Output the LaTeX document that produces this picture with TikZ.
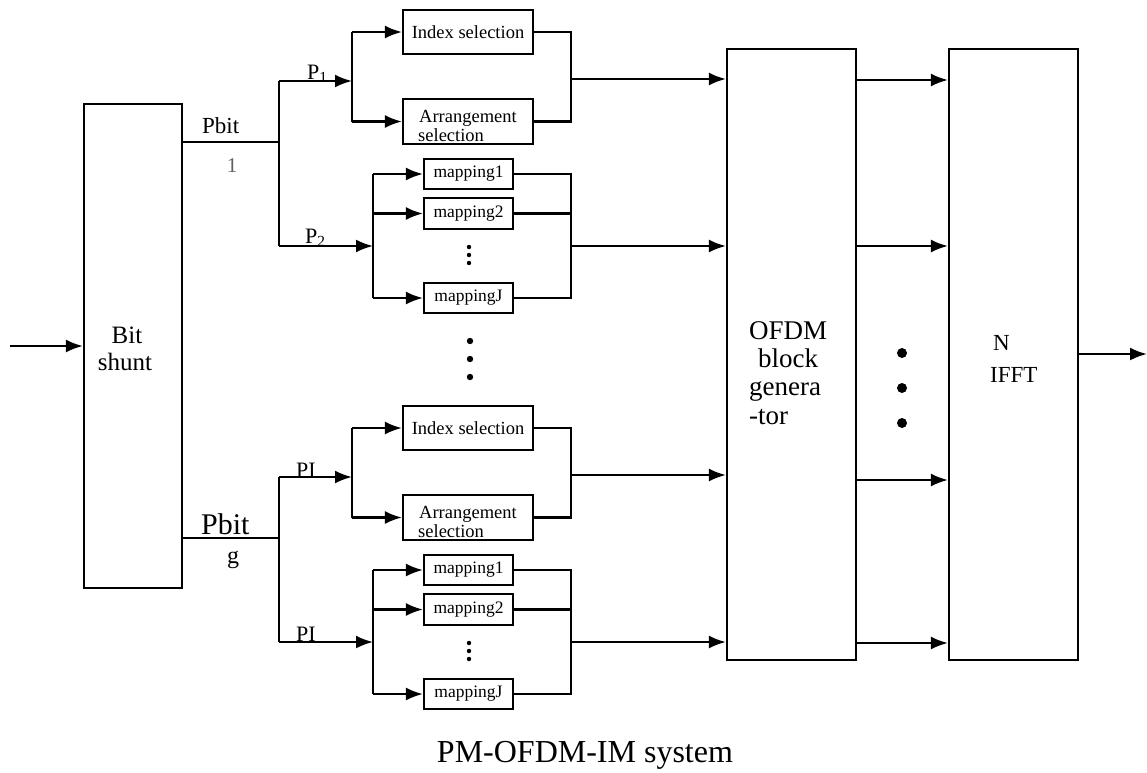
\documentclass[tikz,border=0pt]{standalone}
\usepackage{fontspec}
\setmainfont{Liberation Serif}
\usetikzlibrary{arrows.meta,calc}
\definecolor{numgray}{RGB}{95,95,95}
\newcommand{\fs}[1]{\fontsize{#1}{#1}\selectfont}
\begin{document}
\begin{tikzpicture}[x=1pt,y=-1pt,
  blk/.style={draw,line width=2.2pt,inner sep=0pt},
  wire/.style={line width=2.2pt},
  arr/.style={line width=2.2pt,-{Latex[length=17pt,width=13pt]}},
  lbl/.style={inner sep=0pt},
  idxbox/.style={blk,minimum width=130pt,minimum height=44pt,font=\fs{18.5}},
  mapbox/.style={blk,minimum width=89pt,minimum height=30pt,font=\fs{17.5}}]
\useasboundingbox (0,0) rectangle (1147,772);

% main blocks
\node[blk,minimum width=98pt,minimum height=484pt] (shunt) at (133,346) {};
\node[blk,minimum width=129pt,minimum height=611pt] (ofdm) at (791.5,354.5) {};
\node[blk,minimum width=129pt,minimum height=611pt] (ifft) at (1013.5,354.5) {};

% block labels
\node[lbl,font=\fs{25},anchor=base] (shuntA) at (127,343) {Bit};
\node[lbl,font=\fs{25},anchor=base] (shuntB) at (125,370) {shunt};
\node[lbl,font=\fs{27},anchor=base west] (ofdmA) at (749,339) {OFDM};
\node[lbl,font=\fs{27},anchor=base west] (ofdmB) at (758,367) {block};
\node[lbl,font=\fs{27},anchor=base west] (ofdmC) at (749,395) {genera};
\node[lbl,font=\fs{27},anchor=base west] (ofdmD) at (749,424) {-tor};
\node[lbl,font=\fs{23},anchor=base west] (ifftA) at (993,350) {N};
\node[lbl,font=\fs{23},anchor=base west] (ifftB) at (990,382) {IFFT};

% input
\coordinate (src) at (10,346);
\draw[arr] (src) -- (shunt.west);

% the two branch groups (the second one is the first shifted down)
\foreach \g/\dy in {1/0,2/396}{
  \node[idxbox] (idx\g) at (468,32+\dy) {Index selection};
  \node[idxbox,minimum height=45pt] (arr\g) at (468,121.5+\dy) {};
  \node[lbl,font=\fs{18.5},anchor=base west] (arrA\g) at (419,122+\dy) {Arrangement};
  \node[lbl,font=\fs{18.5},anchor=base west] (arrB\g) at (418,141+\dy) {selection};
  \node[mapbox] (ma\g) at (468.5,174+\dy) {mapping1};
  \node[mapbox,minimum height=31pt] (mb\g) at (468.5,213.5+\dy) {mapping2};
  \node[mapbox] (mj\g) at (468.5,298+\dy) {mappingJ};
  \foreach \yy in {247,255,263}{\fill (469,\yy+\dy) circle (2.2pt);}
  % splitting
  \coordinate (s\g) at (279,142+\dy);
  \coordinate (sa\g) at (279,81+\dy);
  \coordinate (sb\g) at (279,246+\dy);
  \coordinate (ja\g) at (352,81+\dy);
  \coordinate (jb\g) at (373,246+\dy);
  \draw[wire] (s\g -| shunt.east) -- (s\g);
  \draw[wire] (sa\g) -- (sb\g);
  \draw[arr] (sa\g) -- (ja\g);
  \draw[arr] (sb\g) -- (jb\g);
  \draw[wire] (ja\g |- idx\g) -- (ja\g |- arr\g);
  \draw[arr] (ja\g |- idx\g) -- (idx\g.west);
  \draw[arr] (ja\g |- arr\g) -- (arr\g.west);
  \draw[wire] (jb\g |- ma\g) -- (jb\g |- mj\g);
  \draw[arr] (jb\g |- ma\g) -- (ma\g.west);
  \draw[arr] (jb\g |- mb\g) -- (mb\g.west);
  \draw[arr] (jb\g |- mj\g) -- (mj\g.west);
  % merging
  \coordinate (ca\g) at (571,79+\dy);
  \coordinate (cb\g) at (571,246+\dy);
  \draw[wire] (idx\g.east) -- (idx\g.east -| ca\g) -- (arr\g.east -| ca\g) -- (arr\g.east);
  \draw[wire] (ma\g.east) -- (ma\g.east -| cb\g) -- (mj\g.east -| cb\g) -- (mj\g.east);
  \draw[wire] (mb\g.east) -- (mb\g.east -| cb\g);
  \draw[arr] (ca\g) -- (ca\g -| ofdm.west);
  \draw[arr] (cb\g) -- (cb\g -| ofdm.west);
}

% branch labels
\node[lbl,font=\fs{23},anchor=base west] (pbit1) at (202,133) {Pbit};
\node[lbl,font=\fs{21},text=numgray,anchor=base] (pbit1n) at (232,172) {1};
\node[lbl,font=\fs{22},anchor=base west] (p1) at (307,79) {P\textsubscript{1}};
\node[lbl,font=\fs{22},anchor=base west] (p2) at (305,243) {P\textsubscript{2}};
\node[lbl,font=\fs{30},anchor=base west] (pbitg) at (201,534) {Pbit};
\node[lbl,font=\fs{24},anchor=base] (pbitgn) at (233,563) {g};
\node[lbl,font=\fs{22},anchor=base west] (pl1) at (296,477) {PI};
\node[lbl,font=\fs{22},anchor=base west] (pl2) at (296,641) {PI};

% ellipses
\foreach \yy in {341,359,377}{\fill (470,\yy) circle (3.2pt);}
\foreach \yy in {353,388,423}{\fill (902,\yy) circle (5pt);}

% OFDM block -> IFFT
\foreach \yy in {80,246,480,643}{\draw[arr] (ofdm.east |- 0,\yy) -- (ifft.west |- 0,\yy);}

% output
\coordinate (sink) at (1147,354);
\draw[arr] (ifft.east |- sink) -- (sink);

% caption
\node[lbl,font=\fs{32},anchor=base] (cap) at (585,762) {PM-OFDM-IM system};
\end{tikzpicture}
\end{document}
